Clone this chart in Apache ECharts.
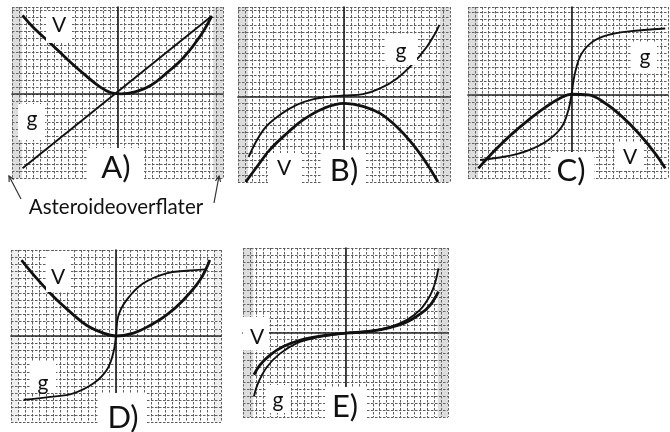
<!DOCTYPE html>
<html>
<head>
<meta charset="utf-8">
<script src="https://cdn.jsdelivr.net/npm/echarts@6/dist/echarts.min.js"></script>
<style>
  html, body { margin: 0; padding: 0; background: #fff; }
  #chart { width: 670px; height: 432px; }
</style>
</head>
<body>
<div id="chart"></div>
<script>
// Panel captions and curve names
const panelNames = ['A)', 'B)', 'C)', 'D)', 'E)'];
const curveNames = ['V', 'g'];
const caption = 'Asteroideoverflater';

// Curves in grid-cell units, [x, y]
const vA = [[-13.5, 11.2], [-12, 9.5], [-9.5, 7.2], [-7, 4.8], [-4.5, 2.6], [-2.5, 1.0], [-1, 0.2], [0.5, 0], [2.5, 0.3], [4.7, 1.2], [7, 3.0], [9.4, 5.2], [11.8, 8.3], [13.4, 11.1]];
const gA = [[-13.5, -10.6], [13.4, 11.1]];

const vB = [[-13.9, -12], [-12.35, -9.9], [-10.5, -7.5], [-8.1, -5.2], [-5.8, -3.3], [-2.9, -1.7], [0, -1.0], [2.7, -1.4], [5.1, -2.4], [7.5, -4.3], [9.8, -6.8], [11.7, -9.4], [13.3, -12]];
const gB = [[-13.5, -8.5], [-11.4, -4.7], [-9.05, -2.6], [-6.7, -1.2], [-4.3, -0.4], [-2.0, -0.05], [0, 0.1], [2.7, 0.3], [5.1, 1.1], [7.5, 2.5], [9.8, 4.6], [11.7, 6.9], [12.9, 8.8], [13.5, 10.0]];

const vC = [[-13.5, -10.6], [-11.1, -8.0], [-8.7, -5.7], [-6.2, -3.6], [-3.8, -1.8], [-1.4, -0.35], [0, 0.1], [2.45, 0], [4.9, -1.2], [7.3, -3.1], [9.7, -5.5], [12.1, -8.4], [13.6, -10.6]];
const gC = [[-13.25, -9.4], [-9.6, -8.9], [-6.25, -8.0], [-3.35, -6.5], [-1.4, -4.6], [-0.45, -2.2], [0, 0], [0.5, 3.1], [1.5, 6.0], [3.4, 7.9], [6.3, 8.9], [9.7, 9.3], [13.6, 9.6]];

const vD = [[-13.5, 10.6], [-11.3, 8.0], [-8.95, 5.5], [-6.6, 3.4], [-4.2, 1.5], [-1.8, 0.4], [0, 0], [2.5, 0.4], [4.9, 1.5], [7.2, 2.9], [9.6, 5.0], [12.0, 7.8], [13.4, 10.6]];
const gD = [[-13.2, -8.9], [-9.4, -8.5], [-6.1, -8.0], [-3.2, -6.6], [-1.3, -4.7], [-0.4, -2.4], [0, 0], [0.3, 2.7], [1.5, 5.0], [3.9, 7.35], [7.2, 8.75], [10.1, 9.1], [12.7, 9.3]];

const vE = [[-13.4, -6.0], [-12.5, -4.6], [-11.05, -3.2], [-9.1, -2.0], [-6.7, -1.1], [-3.7, -0.5], [0, -0.1], [3.6, 0.15], [6.5, 0.7], [9.0, 1.5], [10.9, 2.6], [12.4, 3.9], [13.6, 5.8]];
const gE = [[-13.4, -9.1], [-12.8, -7.2], [-11.5, -4.9], [-9.6, -3.0], [-7.1, -1.5], [-4.2, -0.7], [0, -0.1], [3.6, 0.25], [6.5, 0.8], [9.0, 1.8], [10.9, 3.2], [12.4, 5.3], [13.1, 7.0], [13.6, 9.1]];

// Shaded edge strips per panel, in x cell units
const stripsA = [[-15, -13.6], [13.6, 15]];
const stripsB = [[-15, -13.6], [13.6, 15]];
const stripsC = [[-15, -13.55]];
const stripsD = [[-15, -14], [14, 15]];
const stripsE = [[-15, -13.5], [13.5, 15]];

const panels = [
  { box: { left: 12, top: 7, width: 211, height: 171 }, x: [-15, 15], y: [-12, 12.4], v: vA, g: gA, strips: stripsA, gSmooth: false, stripColor: 'rgba(120,120,120,0.25)' },
  { box: { left: 238, top: 7, width: 212, height: 175 }, x: [-15, 15], y: [-12, 12.5], v: vB, g: gB, strips: stripsB, gSmooth: true, stripColor: 'rgba(120,120,120,0.25)' },
  { box: { left: 468, top: 7, width: 200, height: 171 }, x: [-15, 14], y: [-12, 12.7], v: vC, g: gC, strips: stripsC, gSmooth: true, stripColor: 'rgba(120,120,120,0.25)' },
  { box: { left: 11, top: 250, width: 210, height: 172 }, x: [-15, 15], y: [-12, 12], v: vD, g: gD, strips: stripsD, gSmooth: true, stripColor: 'rgba(120,120,120,0.12)' },
  { box: { left: 243, top: 248, width: 205, height: 169 }, x: [-15, 15], y: [-12, 12], v: vE, g: gE, strips: stripsE, gSmooth: true, stripColor: 'rgba(120,120,120,0.25)' }
];

const gridLine = { color: '#5e5e5e', width: 1, type: [2.5, 1.5] };
const axisDark = { color: '#262626', width: 1.7 };
const font = 'Lato, "Open Sans", sans-serif';

const grids = [], xAxes = [], yAxes = [], series = [];
panels.forEach((p, i) => {
  grids.push(Object.assign({ containLabel: false }, p.box));
  const axisCommon = {
    type: 'value', gridIndex: i, interval: 1,
    axisLabel: { show: false }, axisTick: { show: false },
    axisLine: { show: true, onZero: true, lineStyle: axisDark },
    splitLine: { show: true, lineStyle: gridLine }
  };
  xAxes.push(Object.assign({}, axisCommon, { min: p.x[0], max: p.x[1] }));
  yAxes.push(Object.assign({}, axisCommon, { min: p.y[0], max: p.y[1] }));
  series.push({
    type: 'line', name: curveNames[0], xAxisIndex: i, yAxisIndex: i,
    data: p.v, smooth: 0.4, symbol: 'none', silent: true,
    lineStyle: { color: '#111', width: 2.8, type: 'solid' },
    markArea: {
      silent: true,
      itemStyle: { color: p.stripColor },
      data: p.strips.map(s => [{ xAxis: s[0] }, { xAxis: s[1] }])
    },
    z: 3
  });
  series.push({
    type: 'line', name: curveNames[1], xAxisIndex: i, yAxisIndex: i,
    data: p.g, smooth: p.gSmooth ? 0.4 : false, symbol: 'none', silent: true,
    lineStyle: { color: '#111', width: 1.9, type: 'solid' },
    z: 3
  });
});

// Label blocks: white backing rectangle plus text
function label(text, cx, cy, size, rect) {
  const out = [];
  if (rect) {
    out.push({ type: 'rect', z: 20, shape: { x: rect[0], y: rect[1], width: rect[2], height: rect[3] }, style: { fill: '#fff' } });
  }
  out.push({ type: 'text', z: 21, x: cx, y: cy, style: { text: text, fill: '#111', font: size + 'px ' + font, textAlign: 'center', textVerticalAlign: 'middle' } });
  return out;
}

// Open arrowhead pointing at (hx, hy) from (tx, ty)
function arrow(tx, ty, hx, hy) {
  const dx = tx - hx, dy = ty - hy, len = Math.hypot(dx, dy);
  const ux = dx / len, uy = dy / len, a = 0.45, w = 6;
  const r1 = [hx + w * (ux * Math.cos(a) - uy * Math.sin(a)), hy + w * (ux * Math.sin(a) + uy * Math.cos(a))];
  const r2 = [hx + w * (ux * Math.cos(-a) - uy * Math.sin(-a)), hy + w * (ux * Math.sin(-a) + uy * Math.cos(-a))];
  const st = { stroke: '#333', lineWidth: 1.2, fill: null };
  return [
    { type: 'line', z: 22, shape: { x1: tx, y1: ty, x2: hx, y2: hy }, style: st },
    { type: 'polyline', z: 22, shape: { points: [r1, [hx, hy], r2] }, style: st }
  ];
}

const sv = 21, sp = 31;
const graphics = [].concat(
  label(curveNames[0], 59, 25, sv, [46, 11, 26, 32]),
  label(curveNames[1], 32, 119, sv, [18, 104, 27, 36]),
  label(panelNames[0], 116, 168, sp, [88, 148, 56, 40]),
  label(caption, 116, 207, 20.5, null),
  arrow(21, 199, 9, 176),
  arrow(214, 203, 219, 176),

  label(curveNames[1], 401, 51, sv, [386, 35, 31, 30]),
  label(curveNames[0], 284, 168, sv, [268, 153, 34, 30]),
  label(panelNames[1], 344, 171, sp, [322, 150, 44, 40]),

  label(curveNames[1], 645, 57, sv, [632, 42, 25, 31]),
  label(curveNames[0], 630, 157, sv, [615, 142, 28, 29]),
  label(panelNames[2], 571, 171, sp, [551, 152, 43, 36]),

  label(curveNames[0], 58, 277, sv, [46, 251, 24, 41]),
  label(curveNames[1], 43, 383, sv, [31, 362, 25, 31]),
  label(panelNames[3], 123, 418, sp, [99, 393, 48, 39]),

  label(curveNames[0], 257, 337, sv, [243, 317, 26, 33]),
  label(curveNames[1], 278, 400, sv, [267, 385, 23, 28]),
  label(panelNames[4], 345, 407, sp, [325, 387, 42, 35])
);

const chart = echarts.init(document.getElementById('chart'), null, { renderer: 'canvas' });
chart.setOption({
  backgroundColor: '#fff',
  animation: false,
  grid: grids,
  xAxis: xAxes,
  yAxis: yAxes,
  series: series,
  graphic: graphics
});
</script>
</body>
</html>
